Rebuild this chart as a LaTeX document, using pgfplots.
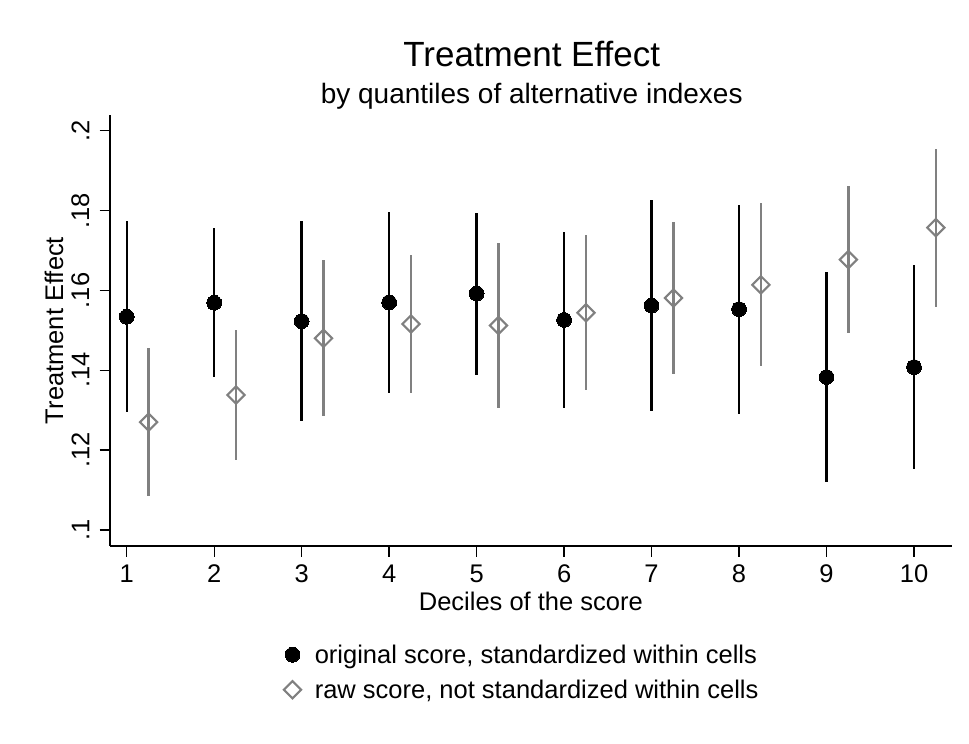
\documentclass[border=0pt]{standalone}
\usepackage{fontspec}
\setmainfont{Liberation Sans}
\usepackage{pgfplots}
\pgfplotsset{compat=1.18}
\usepackage{pgfplotstable}
\definecolor{sgray}{RGB}{128,128,128}

\pgfplotstableread{
x y lo hi
1 0.1534 0.1295 0.1775
2 0.1569 0.1384 0.1756
3 0.1523 0.1272 0.1773
4 0.1570 0.1344 0.1796
5 0.1592 0.1388 0.1795
6 0.1526 0.1305 0.1747
7 0.1562 0.1297 0.1826
8 0.1553 0.1291 0.1815
9 0.1383 0.1120 0.1645
10 0.1408 0.1152 0.1664
}\orig

\pgfplotstableread{
x y lo hi
1.25 0.1270 0.1086 0.1455
2.25 0.1338 0.1175 0.1501
3.25 0.1480 0.1286 0.1676
4.25 0.1516 0.1344 0.1688
5.25 0.1512 0.1305 0.1719
6.25 0.1544 0.1351 0.1738
7.25 0.1581 0.1390 0.1771
8.25 0.1614 0.1411 0.1818
9.25 0.1677 0.1494 0.1862
10.25 0.1757 0.1559 0.1955
}\raw

\begin{document}
\begin{tikzpicture}
\useasboundingbox (0pt,0pt) rectangle (969pt,744pt);
\begin{axis}[
  at={(110pt,198pt)}, anchor=south west,
  scale only axis, width=841.7pt, height=431pt,
  xmin=0.809, xmax=10.431, ymin=0.09599, ymax=0.20393,
  axis x line*=bottom, axis y line*=left,
  axis line style={line width=1.3pt, -},
  tick align=outside, major tick length=10.5pt,
  tick style={line width=1.3pt, black},
  xtick={1,2,3,4,5,6,7,8,9,10},
  ytick={0.1,0.12,0.14,0.16,0.18,0.2},
  yticklabels={.1,.12,.14,.16,.18,.2},
  /pgf/number format/assume math mode=true,
  ticklabel style={font=\fontsize{25.5}{30}\selectfont},
  xticklabel style={anchor=north, inner sep=0pt, yshift=-8pt},
  yticklabel style={rotate=90, anchor=south, inner xsep=0pt, inner ysep=10pt},
  xlabel={Deciles of the score},
  ylabel={Treatment Effect},
  label style={font=\fontsize{25.5}{30}\selectfont},
  xlabel style={at={(axis description cs:0.5,-0.1508)}, anchor=base},
  ylabel style={at={(axis description cs:-0.0558,0.5)}, anchor=base, rotate=0},
  clip=false,
  legend style={at={(axis description cs:0.2064,-0.224)}, anchor=north west,
    draw=none, fill=none, inner sep=0pt, row sep=11pt, column sep=11.6pt,
    font=\fontsize{25.5}{30}\selectfont, nodes={inner sep=2pt}},
  legend cell align=left,
  legend image code/.code={\draw[mark repeat=2,mark phase=2,#1] plot coordinates {(0pt,0pt) (8pt,0pt) (16pt,0pt)};},
]
\addplot[only marks, mark=*, mark size=7.4pt, black, mark options={fill=black, draw=black, line width=0pt},
  error bars/.cd, y dir=both, y explicit, error mark=none,
  error bar style={line width=2.4pt, black}]
  table[x=x, y=y, y error plus expr=\thisrow{hi}-\thisrow{y}, y error minus expr=\thisrow{y}-\thisrow{lo}] {\orig};
\addlegendentry{original score, standardized within cells}
\addplot[only marks, mark=square, mark size=6.1pt, sgray, mark options={draw=sgray, fill=none, line width=2.1pt, rotate=45},
  error bars/.cd, y dir=both, y explicit, error mark=none,
  error bar style={line width=2.4pt, sgray}]
  table[x=x, y=y, y error plus expr=\thisrow{hi}-\thisrow{y}, y error minus expr=\thisrow{y}-\thisrow{lo}] {\raw};
\addlegendentry{raw score, not standardized within cells}
\end{axis}
\node[anchor=base, font=\fontsize{35}{40}\selectfont] at (531.7pt,677.3pt) {Treatment Effect};
\node[anchor=base, font=\fontsize{28}{32}\selectfont] at (531.7pt,640.7pt) {by quantiles of alternative indexes};
\end{tikzpicture}
\end{document}
